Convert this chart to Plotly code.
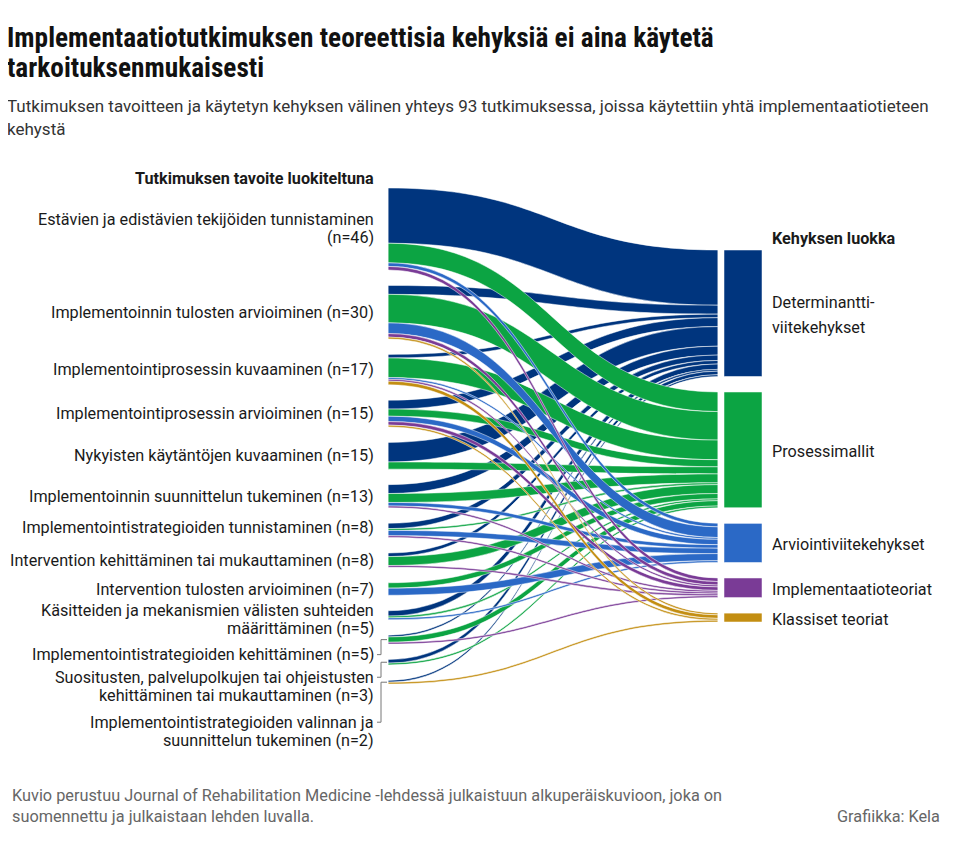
import plotly.graph_objects as go

# ---------------- data ----------------
goal_labels = [
    "Estävien ja edistävien tekijöiden tunnistaminen<br>(n=46)",
    "Implementoinnin tulosten arvioiminen (n=30)",
    "Implementointiprosessin kuvaaminen (n=17)",
    "Implementointiprosessin arvioiminen (n=15)",
    "Nykyisten käytäntöjen kuvaaminen (n=15)",
    "Implementoinnin suunnittelun tukeminen (n=13)",
    "Implementointistrategioiden tunnistaminen (n=8)",
    "Intervention kehittäminen tai mukauttaminen (n=8)",
    "Intervention tulosten arvioiminen (n=7)",
    "Käsitteiden ja mekanismien välisten suhteiden<br>määrittäminen (n=5)",
    "Implementointistrategioiden kehittäminen (n=5)",
    "Suositusten, palvelupolkujen tai ohjeistusten<br>kehittäminen tai mukauttaminen (n=3)",
    "Implementointistrategioiden valinnan ja<br>suunnittelun tukeminen (n=2)",
]
goal_n = [46, 30, 17, 15, 15, 13, 8, 8, 7, 5, 5, 3, 2]

framework_labels = [
    "Determinantti-<br>viitekehykset",
    "Prosessimallit",
    "Arviointiviitekehykset",
    "Implementaatioteoriat",
    "Klassiset teoriat",
]
framework_colors = ["#00357e", "#0ca443", "#2b69c6", "#7a3b96", "#c38e12"]

# number of links from each goal (same order as goal_labels) to each framework class
to_determinantti = [31, 5, 2, 5, 11, 5, 3, 2, 0, 3, 1, 2, 1]
to_prosessi = [11, 16, 11, 4, 4, 5, 1, 5, 3, 1, 3, 1, 0]
to_arviointi = [2, 6, 1, 3, 0, 2, 3, 0, 4, 1, 0, 0, 0]
to_implementaatio = [2, 2, 1, 2, 0, 1, 1, 1, 0, 0, 1, 0, 0]
to_klassiset = [0, 1, 2, 1, 0, 0, 0, 0, 0, 0, 0, 0, 1]
flows = [to_determinantti, to_prosessi, to_arviointi, to_implementaatio, to_klassiset]

title_lines = ["Implementaatiotutkimuksen teoreettisia kehyksiä ei aina käytetä",
               "tarkoituksenmukaisesti"]
subtitle_lines = ["Tutkimuksen tavoitteen ja käytetyn kehyksen välinen yhteys 93 tutkimuksessa, "
                  "joissa käytettiin yhtä implementaatiotieteen", "kehystä"]
footer_lines = ["Kuvio perustuu Journal of Rehabilitation Medicine -lehdessä julkaistuun "
                "alkuperäiskuvioon, joka on", "suomennettu ja julkaistaan lehden luvalla."]

# ---------------- geometry (page px) ----------------
OFF = 8                      # body margin of the html page
W, H = 960 - 2 * OFF, 842 - 2 * OFF
SK_TOP, SK_H = 188, 496
PAD = 15.5
THICK = 38
LEFT_EDGE = 388   # flows start here
FLOW_END = 718    # flows end here
BAR_X = 724       # coloured bars start here
RIGHT_TOP = 62    # first bar below the top of the sankey area
FONT = "Roboto"
TITLE_FONT = "Liberation Sans Narrow, Roboto Condensed, Roboto"
TXT = "#1a1a1a"
LABEL_SIZE = 16.2


def fx(x):
    return (x - OFF) / W


def fy(y):
    return 1 - (y - OFF) / H


n_goals = len(goal_n)
n_fw = len(framework_labels)
ky = (SK_H - (n_goals - 1) * PAD) / sum(goal_n)
fw_tot = [sum(f) for f in flows]


def centers(values, start):
    out, y = [], start
    for v in values:
        out.append(y + v * ky / 2)
        y += v * ky + PAD
    return out


goal_cy = centers(goal_n, 0)
fw_cy = centers(fw_tot, RIGHT_TOP)

# nodes: goals (hidden), flow ends (white gap), visible bars
node_x = ([fx(LEFT_EDGE - THICK / 2)] * n_goals
          + [fx(FLOW_END + THICK / 2)] * n_fw
          + [fx(BAR_X + THICK / 2)] * n_fw)
node_y = [c / SK_H for c in goal_cy] + [c / SK_H for c in fw_cy] * 2
node_color = ["white"] * (n_goals + n_fw) + framework_colors

src, tgt, val, lcol = [], [], [], []
for j, f in enumerate(flows):
    for i, v in enumerate(f):
        if v:
            src.append(i)
            tgt.append(n_goals + j)
            val.append(v)
            lcol.append(framework_colors[j])
for j, t in enumerate(fw_tot):
    src.append(n_goals + j)
    tgt.append(n_goals + n_fw + j)
    val.append(t)
    lcol.append("white")

fig = go.Figure(go.Sankey(
    arrangement="fixed",
    hoverinfo="skip",
    domain=dict(x=[0, 1], y=[fy(SK_TOP + SK_H), fy(SK_TOP)]),
    node=dict(
        label=[""] * (n_goals + 2 * n_fw),
        x=node_x, y=node_y,
        pad=PAD, thickness=THICK,
        color=node_color,
        line=dict(color="white", width=0.5),
    ),
    link=dict(
        source=src, target=tgt, value=val, color=lcol,
        line=dict(color="white", width=0.5),
    ),
))


def text_lines(lines, x, y_first, step, xanchor, size, color=TXT, bold=False, family=FONT):
    for k, line in enumerate(lines):
        fig.add_annotation(
            x=fx(x), y=fy(y_first + k * step), xref="paper", yref="paper",
            text=f"<b>{line}</b>" if bold else line, showarrow=False,
            xanchor=xanchor, yanchor="middle",
            font=dict(family=family, size=size, color=color),
        )


# left labels; the last three hang below their flows with a bracket
LINE_STEP = 18
BRACKET_DROP = {10: 15, 11: 15, 12: 40}
LABEL_NUDGE = {6: -3, 9: 4}
for i, lab in enumerate(goal_labels):
    lines = lab.split("<br>")
    cy = SK_TOP + goal_cy[i]
    if i in BRACKET_DROP:
        y_first = cy + BRACKET_DROP[i]
        fig.add_shape(
            type="path", xref="paper", yref="paper",
            path=(f"M {fx(377)},{fy(y_first)} L {fx(381)},{fy(y_first)} "
                  f"L {fx(381)},{fy(cy)} L {fx(387)},{fy(cy)}"),
            line=dict(color="#777", width=1),
        )
    else:
        y_first = cy - (len(lines) - 1) / 2 * LINE_STEP + LABEL_NUDGE.get(i, 0)
    text_lines(lines, 376, y_first, LINE_STEP, "right", LABEL_SIZE)

for j, lab in enumerate(framework_labels):
    lines = lab.split("<br>")
    cy = SK_TOP + fw_cy[j]
    text_lines(lines, 770, cy - (len(lines) - 1) / 2 * 25 + 2, 25, "left", LABEL_SIZE)

text_lines(["Tutkimuksen tavoite luokiteltuna"], 376, 178, 0, "right", LABEL_SIZE, bold=True)
text_lines(["Kehyksen luokka"], 770, 238, 0, "left", LABEL_SIZE, bold=True)

text_lines(title_lines, 5, 38, 30, "left", 27.3, color="#111", bold=True, family=TITLE_FONT)
text_lines(subtitle_lines, 5, 106, 23, "left", 17, color="#333")
text_lines(footer_lines, 10, 795, 21, "left", 16.3, color="#666")
text_lines(["Grafiikka: Kela"], 942, 816, 0, "right", 16.3, color="#666")

fig.update_layout(
    width=W, height=H,
    margin=dict(l=0, r=0, t=0, b=0),
    paper_bgcolor="white",
    showlegend=False,
)
fig.write_html("out.html")
